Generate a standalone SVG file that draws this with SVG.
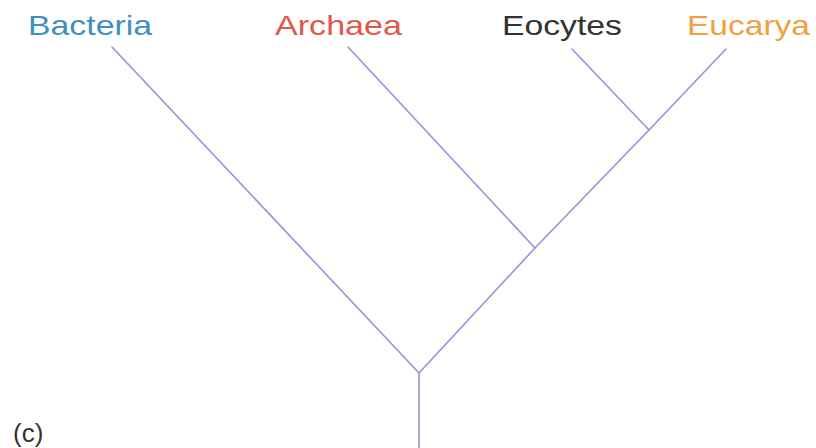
<svg xmlns="http://www.w3.org/2000/svg" width="816" height="448" viewBox="0 0 816 448">
<style>
.lbl{font-family:"Liberation Sans",Arial,sans-serif;font-size:28px}
.br{fill:none;stroke:#9b8fd6;stroke-width:1.6;stroke-linecap:round;stroke-linejoin:round}
</style>
<rect width="816" height="448" fill="#ffffff"/>
<g id="connectors">
<path class="br" d="M112,47 L419,373 L419,448"/>
<path class="br" d="M348,47 L535,248"/>
<path class="br" d="M572,49 L649,130"/>
<path class="br" d="M726,49 L649,130 L535,248 L419,373"/>
</g>
<g id="bacteria"><text class="lbl" x="28" y="35" fill="#3f8fc2" textLength="124" lengthAdjust="spacingAndGlyphs">Bacteria</text></g>
<g id="archaea"><text class="lbl" x="275" y="35" fill="#e05848" textLength="127" lengthAdjust="spacingAndGlyphs">Archaea</text></g>
<g id="eocytes"><text class="lbl" x="502" y="35" fill="#333333" textLength="120" lengthAdjust="spacingAndGlyphs">Eocytes</text></g>
<g id="eucarya"><text class="lbl" x="687" y="35" fill="#f0a040" textLength="123" lengthAdjust="spacingAndGlyphs">Eucarya</text></g>
<g id="caption"><text class="lbl" x="13" y="442" fill="#333333" style="font-size:26px">(c)</text></g>
</svg>
